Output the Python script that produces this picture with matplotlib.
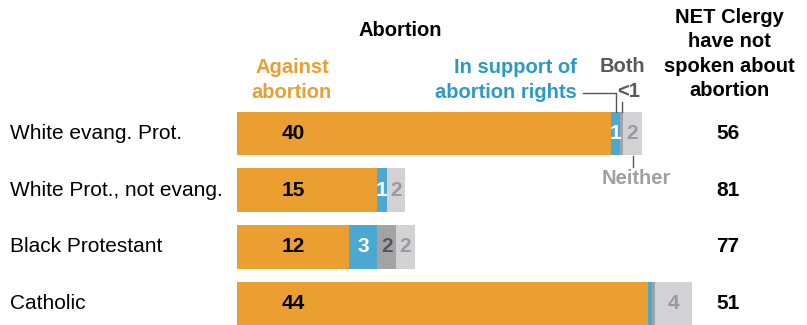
import matplotlib as mpl
mpl.use('Agg')
import matplotlib.pyplot as plt

mpl.rcParams['font.family'] = ['Liberation Sans', 'DejaVu Sans']

# data
groups = ['White evang. Prot.', 'White Prot., not evang.', 'Black Protestant', 'Catholic']
against = [40, 15, 12, 44]
support = [1, 1, 3, 0.4]
both = [0.3, 0, 2, 0.3]
neither = [2, 2, 2, 4]
net_not_spoken = [56, 81, 77, 51]

support_lbl = ['1', '1', '3', '']
both_lbl = ['', '', '2', '']
neither_lbl = ['2', '2', '2', '4']

c_orange = '#EA9F30'
c_blue = '#4AA8D3'
c_dark = '#A3A3A5'
c_light = '#D2D2D4'

W, H = 807, 325
fig = plt.figure(figsize=(W / 100, H / 100), dpi=100)
ax = fig.add_axes([0, 0, 1, 1])
ax.axis('off')

px = 9.35           # pixels per percentage point
x0 = 237            # bar origin in pixels
row0, step = 133.5, 56.7
ax.set_xlim(-x0 / px, (W - x0) / px)
ax.set_ylim((H - row0) / step, -row0 / step)

ys = list(range(len(groups)))
bh = 0.77
left = [0] * 4
for vals, col in [(against, c_orange), (support, c_blue), (both, c_dark), (neither, c_light)]:
    ax.barh(ys, vals, left=left, height=bh, color=col, edgecolor='none')
    left = [l + v for l, v in zip(left, vals)]

fs = 14.5   # headers
fr = 15     # row labels
fn = 15     # numbers
for i, g in enumerate(groups):
    ax.text(-x0 / px + 10 / px, i, g, ha='left', va='center', fontsize=fr, color='black')
    ax.text(6, i, str(against[i]), ha='center', va='center', fontsize=fn, weight='bold')
    s0 = against[i]
    if support_lbl[i]:
        ax.text(s0 + support[i] / 2, i, support_lbl[i], ha='center', va='center',
                fontsize=fn, weight='bold', color='white')
    b0 = s0 + support[i]
    if both_lbl[i]:
        ax.text(b0 + both[i] / 2, i, both_lbl[i], ha='center', va='center',
                fontsize=fn, weight='bold', color='#555555')
    n0 = b0 + both[i]
    ax.text(n0 + neither[i] / 2, i, neither_lbl[i], ha='center', va='center',
            fontsize=fn, weight='bold', color='#9A9A9A')
    ax.text((728 - x0) / px, i, str(net_not_spoken[i]), ha='center', va='center',
            fontsize=fn, weight='bold')

# headers (figure pixel coords)
def fx(x):
    return x / W

def fy(y):
    return 1 - y / H

ls = 1.35
fig.text(fx(400), fy(31), 'Abortion', ha='center', va='center', fontsize=fs, weight='bold')
fig.text(fx(292), fy(80), 'Against\nabortion', ha='center', va='center', fontsize=fs,
         weight='bold', color=c_orange, linespacing=ls)
fig.text(fx(577), fy(80), 'In support of\nabortion rights', ha='right', va='center',
         fontsize=fs, weight='bold', color='#2A9BC9', linespacing=ls, multialignment='right')
fig.text(fx(622), fy(67), 'Both', ha='center', va='center', fontsize=fs, weight='bold',
         color='#5A5A5A')
fig.text(fx(629), fy(92), '<1', ha='center', va='center', fontsize=fs, weight='bold',
         color='#5A5A5A')
fig.text(fx(636), fy(179), 'Neither', ha='center', va='center', fontsize=fs, weight='bold',
         color='#A0A0A0')
fig.text(fx(729), fy(54), 'NET Clergy\nhave not\nspoken about\nabortion', ha='center',
         va='center', fontsize=fs, weight='bold', linespacing=ls)

# leader lines
top0 = -bh / 2
bot0 = bh / 2
y_lead = (92.5 - row0) / step
xs = against[0] + support[0] / 2
ax.plot([(583 - x0) / px, xs, xs], [y_lead, y_lead, top0], color='#555555', lw=1)
xb = against[0] + support[0] + both[0] / 2
ax.plot([xb, xb], [(101.5 - row0) / step, top0], color='#555555', lw=1)
xn = against[0] + support[0] + both[0] + neither[0] / 2
ax.plot([xn, xn], [bot0 + 1 / step, (167 - row0) / step], color='#555555', lw=1)

fig.savefig('out.png', dpi=100)
